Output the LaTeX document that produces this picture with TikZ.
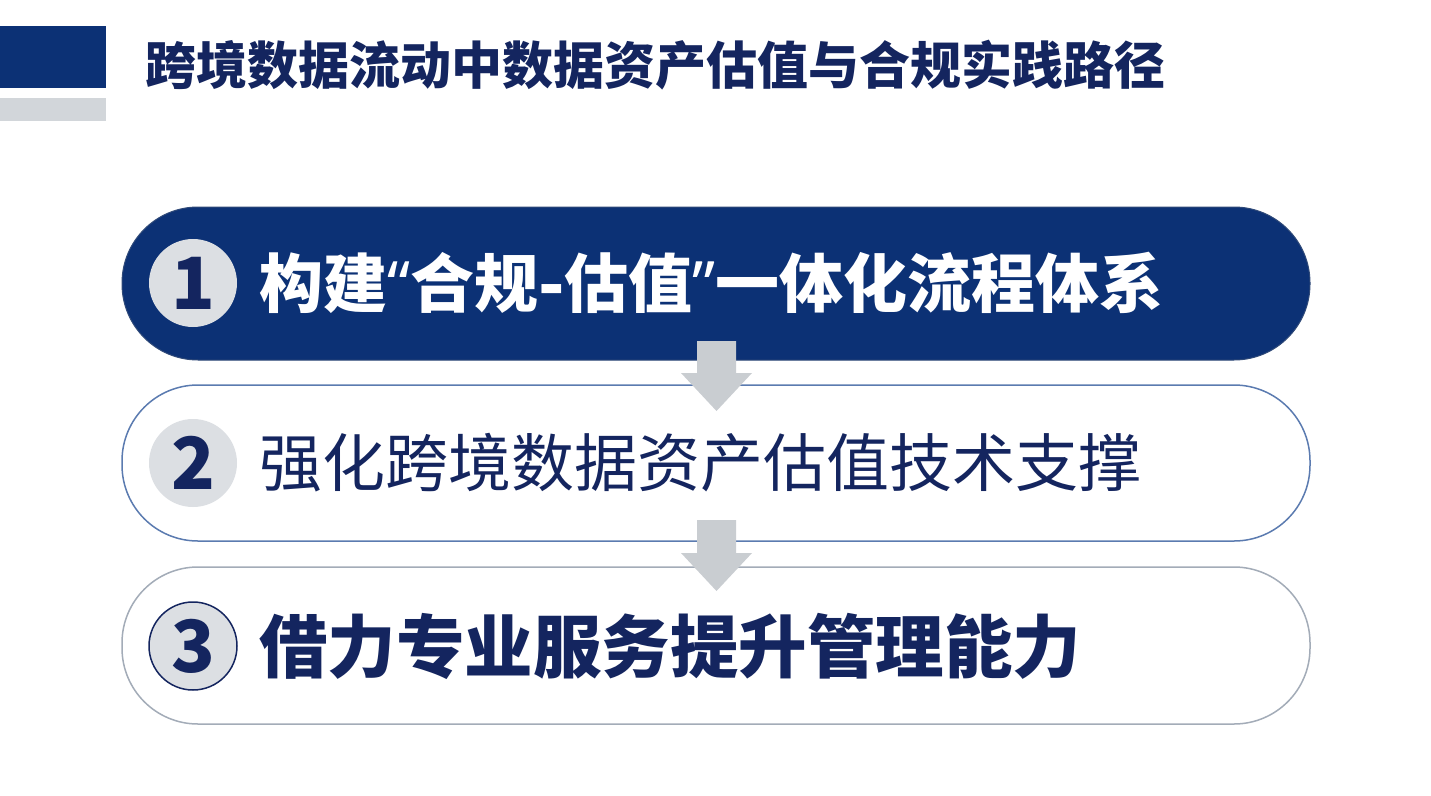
\documentclass[tikz,border=0pt]{standalone}
\usepackage{fontspec}
\newfontfamily\cjk{Noto Sans CJK SC}
\newfontfamily\latin{Noto Sans}
\newfontfamily\dejavu{DejaVu Sans}
\setmainfont{Noto Sans CJK SC}
\definecolor{navy}{HTML}{0C3175}
\definecolor{ink}{HTML}{14255F}
\definecolor{disc}{HTML}{DCDFE3}
\definecolor{arrowgray}{HTML}{C9CDD1}
\definecolor{bluebord}{HTML}{5B7BB0}
\definecolor{graybord}{HTML}{A3ACB8}
\definecolor{barGray}{HTML}{D2D6DA}
\begin{document}
\begin{tikzpicture}[x=1pt,y=-1pt,
  pill/.style={minimum width=1188pt, rounded corners=76pt, inner sep=0pt},
  numdisc/.style={circle, minimum size=88pt, inner sep=0pt, fill=disc, text=ink, font=\cjk\bfseries\fontsize{72}{72}\selectfont},
  flow/.style={fill=arrowgray, draw=none}
]
\useasboundingbox (0,0) rectangle (1431,795);
\fill[white] (0,0) rectangle (1431,795);
% header bars
\fill[navy] (0,26) rectangle (106,88);
\fill[barGray] (0,98) rectangle (106,121);
\node[anchor=west, text=ink, font=\cjk\bfseries\fontsize{51}{51}\selectfont, inner sep=0pt] (title) at (145,65) {跨境数据流动中数据资产估值与合规实践路径};
% pills
\node[pill, minimum height=153pt, fill=navy, draw=navy!70!gray, line width=1pt] (p1) at (716,283.5) {};
\node[pill, minimum height=156pt, fill=white, draw=bluebord, line width=1.5pt] (p2) at (716,463) {};
\node[pill, minimum height=157pt, fill=white, draw=graybord, line width=1.5pt] (p3) at (716,645.5) {};
% arrows
\fill[flow] (697,341) -- (736,341) -- (736,373) -- (752,373) -- (716.5,411) -- (681,373) -- (697,373) -- cycle;
\fill[flow] (697,520) -- (736,520) -- (736,553) -- (752,553) -- (716.5,591) -- (681,553) -- (697,553) -- cycle;
% discs
\node[numdisc] (n1) at (193,283) {1};
\node[numdisc] (n2) at (193,463) {2};
\node[numdisc, draw=ink, line width=1.5pt] (n3) at (193,646) {3};
% texts
\node[anchor=west, inner sep=0pt, text=white, font=\cjk\bfseries\fontsize{64}{64}\selectfont] (t1) at (259,283) {构建{\latin“}合规{\dejavu\bfseries -}估值{\latin ”}一体化流程体系};
\node[anchor=west, inner sep=0pt, text=ink, font=\cjk\fontsize{63}{63}\selectfont] (t2) at (259,463) {强化跨境数据资产估值技术支撑};
\node[anchor=west, inner sep=0pt, text=ink, font=\cjk\bfseries\fontsize{68.5}{68.5}\selectfont] (t3) at (259,646) {借力专业服务提升管理能力};
\end{tikzpicture}
\end{document}
